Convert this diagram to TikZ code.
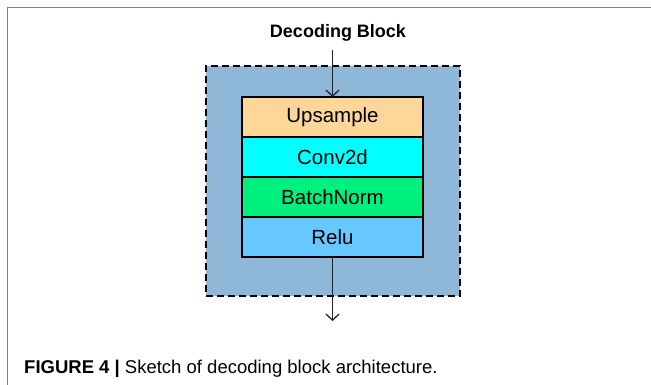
\documentclass[tikz,border=0pt]{standalone}
\usepackage{fontspec}
\setmainfont{Liberation Sans}
\usetikzlibrary{arrows.meta}
\definecolor{outerblue}{RGB}{143,184,216}
\definecolor{upcol}{RGB}{253,214,153}
\definecolor{convcol}{RGB}{0,255,255}
\definecolor{bncol}{RGB}{0,240,128}
\definecolor{relucol}{RGB}{102,200,255}
\definecolor{framegray}{RGB}{130,130,130}
\definecolor{arrowcol}{RGB}{30,35,50}
\tikzset{
  layerbox/.style={draw=black, line width=1.2pt, minimum width=181pt, minimum height=40pt, inner sep=0pt, outer sep=0pt, font=\fontsize{20.5}{24}\selectfont, anchor=north},
  flowarrow/.style={draw=arrowcol, line width=1.3pt, -{Straight Barb[length=6pt,width=13pt,line width=1.3pt]}},
}
\begin{document}
\begin{tikzpicture}[x=1pt,y=-1pt]
\useasboundingbox (0,0) rectangle (651,385);
% frame
\draw[framegray, line width=1.2pt] (7.5,385) -- (7.5,7.5) -- (651,7.5);
% outer dashed block
\node[draw=black, fill=outerblue, line width=1.4pt, dash pattern=on 7pt off 4pt, minimum width=254pt, minimum height=230pt, inner sep=0pt, outer sep=0pt, anchor=north west] (outer) at (206,66) {};
% title
\node[font=\fontsize{18}{21}\selectfont\bfseries, anchor=base] (title) at (338,38) {Decoding Block};
% layers
\node[layerbox, fill=upcol] (up) at (332.5,97) {Upsample};
\node[layerbox, fill=convcol] (conv) at (up.south) {Conv2d};
\node[layerbox, fill=bncol] (bn) at (conv.south) {BatchNorm};
\node[layerbox, fill=relucol] (relu) at (bn.south) {Relu};
\coordinate (intop) at (332.5,50);
\coordinate (outbot) at (332.5,321);
\draw[flowarrow] (intop) -- (up.north);
\draw[flowarrow] (relu.south) -- (outbot);
% caption
\node[anchor=base west, inner sep=0pt, font=\fontsize{18.5}{21}\selectfont] (cap) at (24,373) {\textbf{FIGURE 4} \textbf{|} Sketch of decoding block architecture.};
\end{tikzpicture}
\end{document}
